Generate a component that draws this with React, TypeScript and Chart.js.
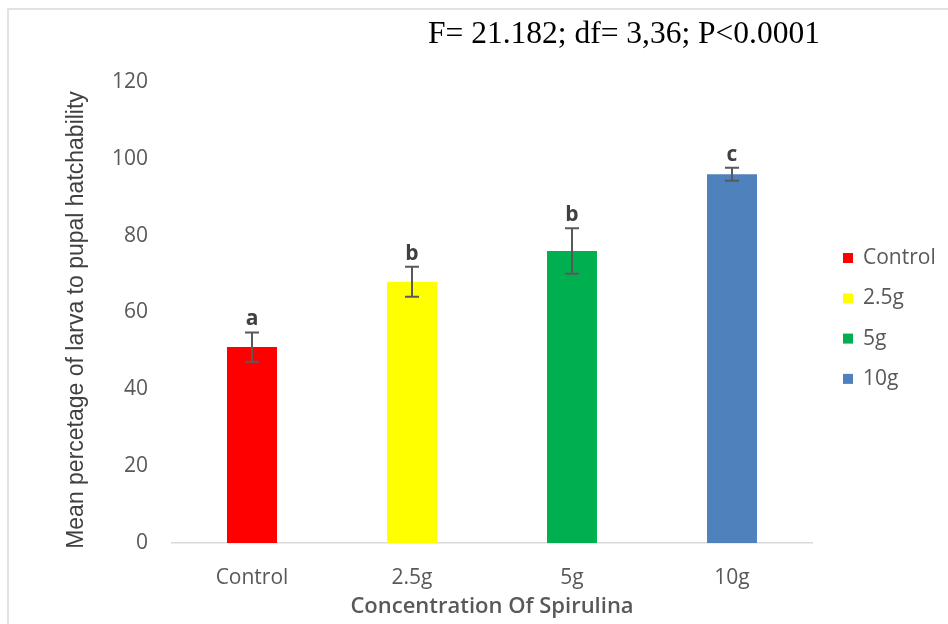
import React, { useEffect, useRef } from 'react';
import { Chart, registerables } from 'chart.js';

Chart.register(...registerables);

const categories = ['Control', '2.5g', '5g', '10g'];
const means = [51, 68, 76, 96];
const errors = [3.8, 3.9, 5.9, 1.7];
const letters = ['a', 'b', 'b', 'c'];
const colors = ['#FF0000', '#FFFF00', '#00B050', '#4F81BD'];
const yTicks = [0, 20, 40, 60, 80, 100, 120];
const titleText = 'F= 21.182; df= 3,36; P<0.0001';
const xTitle = 'Concentration Of Spirulina';
const yTitle = 'Mean percetage of larva to pupal hatchability';

const GRAY = '#595959';

const framePlugin = {
  id: 'frame',
  beforeDraw(chart: any) {
    const { ctx, width, height } = chart;
    ctx.save();
    ctx.fillStyle = '#ffffff';
    ctx.fillRect(0, 0, width, height);
    ctx.strokeStyle = '#d9d9d9';
    ctx.lineWidth = 1.5;
    ctx.beginPath();
    ctx.moveTo(8, height);
    ctx.lineTo(8, 9);
    ctx.lineTo(width, 9);
    ctx.stroke();
    ctx.restore();
  },
};

const errorPlugin = {
  id: 'errorBars',
  afterDatasetsDraw(chart: any) {
    const { ctx } = chart;
    const xs = chart.scales.x;
    const ys = chart.scales.y;
    ctx.save();
    ctx.strokeStyle = '#595959';
    ctx.lineWidth = 2;
    means.forEach((m, i) => {
      const x = xs.getPixelForValue(i);
      const top = ys.getPixelForValue(m + errors[i]);
      const bot = ys.getPixelForValue(m - errors[i]);
      ctx.beginPath();
      ctx.moveTo(x, top);
      ctx.lineTo(x, bot);
      ctx.moveTo(x - 7, top);
      ctx.lineTo(x + 7, top);
      ctx.moveTo(x - 7, bot);
      ctx.lineTo(x + 7, bot);
      ctx.stroke();
      ctx.fillStyle = '#404040';
      ctx.font = 'bold 21px "Open Sans"';
      ctx.textAlign = 'center';
      ctx.textBaseline = 'alphabetic';
      ctx.fillText(letters[i], x, top - 7);
    });
    ctx.restore();
  },
};

const legendPlugin = {
  id: 'customLegend',
  afterDraw(chart: any) {
    const { ctx } = chart;
    ctx.save();
    ctx.font = '21px "Open Sans"';
    ctx.textBaseline = 'middle';
    ctx.textAlign = 'left';
    categories.forEach((c, i) => {
      const cy = 258 + i * 40.3;
      ctx.fillStyle = colors[i];
      ctx.fillRect(843, cy - 5, 10, 10);
      ctx.fillStyle = GRAY;
      ctx.fillText(c, 863, cy);
    });
    ctx.restore();
  },
};

const textPlugin = {
  id: 'texts',
  afterDraw(chart: any) {
    const { ctx } = chart;
    ctx.save();
    ctx.font = '31.5px "Liberation Serif"';
    ctx.fillStyle = '#000000';
    ctx.textAlign = 'left';
    ctx.textBaseline = 'alphabetic';
    ctx.fillText(titleText, 428, 43);

    ctx.translate(77, 320);
    ctx.rotate(-Math.PI / 2);
    ctx.font = '23px "Liberation Sans"';
    ctx.fillStyle = '#404040';
    ctx.textAlign = 'center';
    ctx.textBaseline = 'middle';
    ctx.fillText(yTitle, 0, 0);
    ctx.restore();
  },
};

export default function App() {
  const ref = useRef<HTMLCanvasElement>(null);

  useEffect(() => {
    if (!ref.current) return;
    const chart = new Chart(ref.current, {
      type: 'bar',
      data: {
        labels: categories,
        datasets: [
          {
            data: means,
            backgroundColor: colors,
            borderWidth: 0,
            barPercentage: 0.3125,
            categoryPercentage: 1,
          },
        ],
      },
      options: {
        animation: false,
        responsive: false,
        maintainAspectRatio: false,
        layout: { padding: { left: 63, right: 136, top: 82, bottom: 4 } },
        plugins: {
          legend: { display: false },
          tooltip: { enabled: false },
          title: { display: false },
        },
        scales: {
          x: {
            grid: { display: false, drawTicks: false },
            border: { display: true, color: '#d9d9d9', width: 1.5 },
            ticks: {
              color: GRAY,
              font: { family: 'Open Sans', size: 21 },
              padding: 22,
            },
            title: {
              display: true,
              text: xTitle,
              color: GRAY,
              font: { family: 'Open Sans', size: 22, weight: '600' },
              padding: 0,
            },
            afterFit(s: any) {
              s.height = 77;
            },
          },
          y: {
            min: 0,
            max: 120,
            grid: { display: false, drawTicks: false },
            border: { display: false },
            afterBuildTicks(s: any) {
              s.ticks = yTicks.map((v) => ({ value: v }));
            },
            ticks: {
              color: GRAY,
              font: { family: 'Open Sans', size: 21 },
              padding: 24,
            },
            title: { display: false },
            afterFit(s: any) {
              s.width = 109;
            },
          },
        },
      },
      plugins: [framePlugin, errorPlugin, legendPlugin, textPlugin],
    });
    return () => chart.destroy();
  }, []);

  return (
    <div style={{ position: 'fixed', left: 0, top: 0, width: 948, height: 624 }}>
      <canvas ref={ref} width={948} height={624} style={{ display: 'block' }} />
    </div>
  );
}
